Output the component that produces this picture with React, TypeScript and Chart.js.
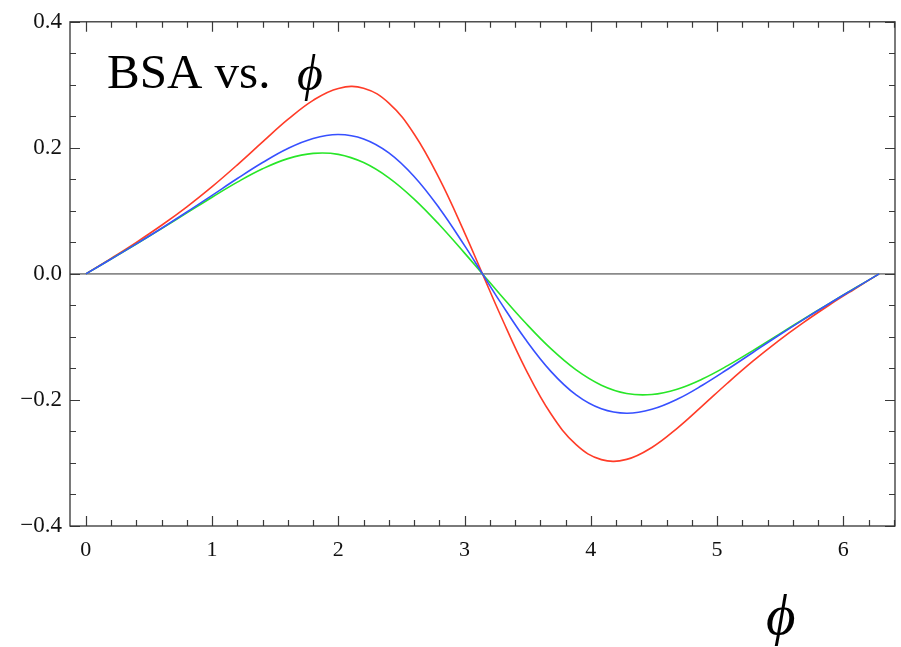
import React, { useEffect, useRef } from "react";
import { Chart, registerables } from "chart.js";

Chart.register(...registerables);

// phi values (radians) and BSA values, per curve
const phiRed = [0, 0.2, 0.4, 0.6, 0.8, 1.0, 1.2, 1.4, 1.6, 1.8, 2.0, 2.2, 2.4, 2.6, 2.8, 3.0, 3.1416,
  3.2832, 3.4832, 3.6832, 3.8832, 4.0832, 4.2832, 4.4832, 4.6832, 4.8832, 5.0832, 5.2832, 5.4832, 5.6832, 5.8832, 6.0832, 6.2832];
const bsaRed = [0, 0.0247, 0.0501, 0.0772, 0.1065, 0.1385, 0.1731, 0.2094, 0.2450, 0.2754, 0.2943, 0.2947, 0.2710, 0.2220, 0.1510, 0.0652, 0,
  -0.0652, -0.1510, -0.2220, -0.2710, -0.2947, -0.2943, -0.2754, -0.2450, -0.2094, -0.1731, -0.1385, -0.1065, -0.0772, -0.0501, -0.0247, 0];

const phiBlue = [0, 0.2, 0.4, 0.6, 0.8, 1.0, 1.2, 1.4, 1.6, 1.8, 2.0, 2.2, 2.4, 2.6, 2.8, 3.0, 3.1416,
  3.2832, 3.4832, 3.6832, 3.8832, 4.0832, 4.2832, 4.4832, 4.6832, 4.8832, 5.0832, 5.2832, 5.4832, 5.6832, 5.8832, 6.0832, 6.2832];
const bsaBlue = [0, 0.0237, 0.0477, 0.0725, 0.0982, 0.1247, 0.1513, 0.1767, 0.1990, 0.2149, 0.2211, 0.2141, 0.1920, 0.1546, 0.1042, 0.0448, 0,
  -0.0448, -0.1042, -0.1546, -0.1920, -0.2141, -0.2211, -0.2149, -0.1990, -0.1767, -0.1513, -0.1247, -0.0982, -0.0725, -0.0477, -0.0237, 0];

const phiGreen = [0, 0.2, 0.4, 0.6, 0.8, 1.0, 1.2, 1.4, 1.6, 1.8, 2.0, 2.2, 2.4, 2.6, 2.8, 3.0, 3.1416,
  3.2832, 3.4832, 3.6832, 3.8832, 4.0832, 4.2832, 4.4832, 4.6832, 4.8832, 5.0832, 5.2832, 5.4832, 5.6832, 5.8832, 6.0832, 6.2832];
const bsaGreen = [0, 0.0236, 0.0475, 0.0719, 0.0968, 0.1217, 0.1456, 0.1668, 0.1829, 0.1913, 0.1897, 0.1766, 0.1524, 0.1187, 0.0780, 0.0330, 0,
  -0.0330, -0.0780, -0.1187, -0.1524, -0.1766, -0.1897, -0.1913, -0.1829, -0.1668, -0.1456, -0.1217, -0.0968, -0.0719, -0.0475, -0.0236, 0];

const xTickValues = [0, 1, 2, 3, 4, 5, 6];
const xTickLabels = ["0", "1", "2", "3", "4", "5", "6"];
const yTickValues = [-0.4, -0.2, 0, 0.2, 0.4];
const yTickLabels = ["\u22120.4", "\u22120.2", "0.0", "0.2", "0.4"];

const titleText = "BSA vs.";
const phiSymbol = "\u03D5";

const X_MIN = -0.1257;
const X_MAX = 6.409;
const Y_MIN = -0.4;
const Y_MAX = 0.4;

const SERIF = '"Liberation Serif", "DejaVu Serif", serif';

const toPoints = (xs: number[], ys: number[]) => xs.map((x, i) => ({ x, y: ys[i] }));

const framePlugin = {
  id: "mmaFrame",
  beforeDatasetsDraw(chart: any) {
    const { ctx, chartArea, scales } = chart;
    const y0 = scales.y.getPixelForValue(0);
    ctx.save();
    ctx.strokeStyle = "#8a8a8a";
    ctx.lineWidth = 1.6;
    ctx.beginPath();
    ctx.moveTo(chartArea.left, y0);
    ctx.lineTo(chartArea.right, y0);
    ctx.stroke();
    ctx.restore();
  },
  afterDraw(chart: any) {
    const { ctx, chartArea, scales } = chart;
    const { left, right, top, bottom } = chartArea;
    ctx.save();
    ctx.strokeStyle = "#3a3a3a";
    ctx.lineWidth = 1.2;
    // x ticks (minor every 0.2, major every 1)
    for (let k = 0; k <= 32; k++) {
      const v = k * 0.2;
      if (v > X_MAX + 1e-9) break;
      const major = k % 5 === 0;
      const len = major ? 10 : 6;
      const px = Math.round(scales.x.getPixelForValue(v)) + 0.5;
      ctx.beginPath();
      ctx.moveTo(px, bottom);
      ctx.lineTo(px, bottom - len);
      ctx.moveTo(px, top);
      ctx.lineTo(px, top + len);
      ctx.stroke();
    }
    // y ticks (minor every 0.05, major every 0.2)
    for (let k = -8; k <= 8; k++) {
      const v = k * 0.05;
      const major = k % 4 === 0;
      const len = major ? 10 : 6;
      const py = Math.round(scales.y.getPixelForValue(v)) + 0.5;
      ctx.beginPath();
      ctx.moveTo(left, py);
      ctx.lineTo(left + len, py);
      ctx.moveTo(right, py);
      ctx.lineTo(right - len, py);
      ctx.stroke();
    }
    // frame
    ctx.strokeStyle = "#333333";
    ctx.lineWidth = 1.3;
    ctx.strokeRect(left, top, right - left, bottom - top);

    // in-plot title
    ctx.fillStyle = "#000";
    ctx.textAlign = "left";
    ctx.textBaseline = "alphabetic";
    ctx.font = `49px ${SERIF}`;
    ctx.fillText(titleText, left + 37, top + 66);
    ctx.font = `italic 50px ${SERIF}`;
    ctx.fillText(phiSymbol, left + 227, top + 68);

    // x-axis label
    ctx.font = `italic 57px ${SERIF}`;
    ctx.fillText(phiSymbol, 766, 634);
    ctx.restore();
  },
};

export default function App() {
  const ref = useRef<HTMLCanvasElement | null>(null);
  useEffect(() => {
    if (!ref.current) return;
    const common = { borderWidth: 1.6, pointRadius: 0, tension: 0.4 };
    const chart = new Chart(ref.current, {
      type: "line",
      data: {
        datasets: [
          { label: "blue", data: toPoints(phiBlue, bsaBlue), borderColor: "rgb(55, 80, 255)", ...common },
          { label: "green", data: toPoints(phiGreen, bsaGreen), borderColor: "rgb(40, 230, 40)", ...common },
          { label: "red", data: toPoints(phiRed, bsaRed), borderColor: "rgb(255, 60, 40)", ...common },
        ],
      },
      options: {
        animation: false,
        responsive: false,
        maintainAspectRatio: false,
        layout: { padding: { top: 16, right: 6, left: 0, bottom: 0 } },
        plugins: {
          legend: { display: false },
          tooltip: { enabled: false },
          title: { display: false },
        },
        scales: {
          x: {
            type: "linear",
            min: X_MIN,
            max: X_MAX,
            grid: { display: false, drawTicks: false },
            border: { display: false },
            afterBuildTicks: (scale: any) => {
              scale.ticks = xTickValues.map((v) => ({ value: v }));
            },
            afterFit: (scale: any) => {
              scale.height = 121;
            },
            ticks: {
              autoSkip: false,
              maxRotation: 0,
              padding: 11,
              color: "#111",
              font: { family: SERIF, size: 22 },
              callback: (v: any) => {
                const i = xTickValues.indexOf(Number(v));
                return i >= 0 ? xTickLabels[i] : "";
              },
            },
          },
          y: {
            type: "linear",
            min: Y_MIN,
            max: Y_MAX,
            grid: { display: false, drawTicks: false },
            border: { display: false },
            afterBuildTicks: (scale: any) => {
              scale.ticks = yTickValues.map((v) => ({ value: v }));
            },
            afterFit: (scale: any) => {
              scale.width = 70;
            },
            ticks: {
              autoSkip: false,
              padding: 8,
              color: "#111",
              font: { family: SERIF, size: 23 },
              callback: (v: any) => {
                const i = yTickValues.findIndex((t) => Math.abs(t - Number(v)) < 1e-9);
                return i >= 0 ? yTickLabels[i] : "";
              },
            },
          },
        },
      },
      plugins: [framePlugin],
    });
    return () => chart.destroy();
  }, []);
  return (
    <div style={{ position: "absolute", left: 0, top: 0, width: 901, height: 647, background: "#fff" }}>
      <canvas ref={ref} width={901} height={647} style={{ width: 901, height: 647, display: "block" }} />
    </div>
  );
}
